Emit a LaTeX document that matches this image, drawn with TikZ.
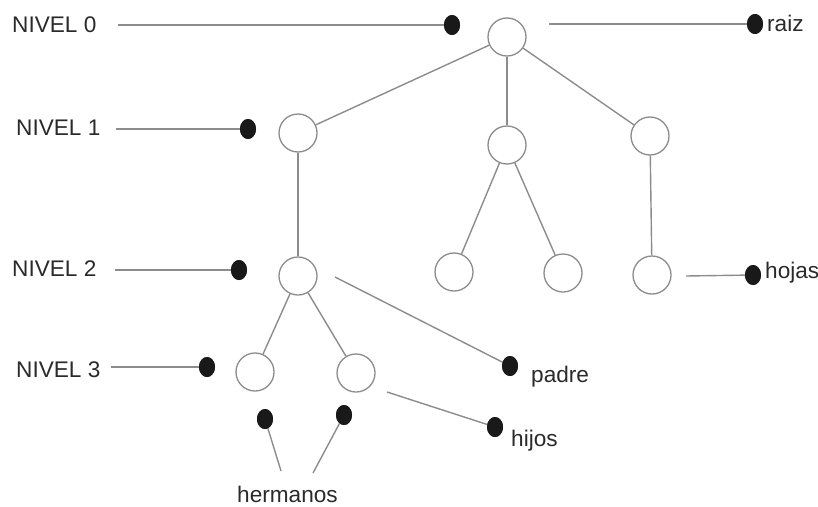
\documentclass[tikz,border=0pt]{standalone}
\usepackage{fontspec}
\setmainfont{Liberation Sans}
\usetikzlibrary{shapes.geometric}
\definecolor{ln}{HTML}{8C8C8C}
\definecolor{tx}{HTML}{2A2A2A}
\begin{document}
\begin{tikzpicture}[x=1pt,y=-1pt,
  nodo/.style={circle,draw=ln,line width=1.3pt,minimum size=38pt,inner sep=0pt,fill=white},
  punto/.style={ellipse,fill=black!90,draw=none,minimum width=16pt,minimum height=20pt,inner sep=0pt},
  conn/.style={draw=ln,line width=1.4pt},
  lbl/.style={font=\fontsize{22.6}{26}\selectfont,text=tx,inner sep=0pt}]
\useasboundingbox (0,0) rectangle (818,506);
% tree nodes
\node[nodo] (r) at (507,37) {};
\node[nodo] (a) at (298,133) {};
\node[nodo] (b) at (507,145) {};
\node[nodo] (c) at (650,136) {};
\node[nodo] (a1) at (298,276) {};
\node[nodo] (b1) at (454,272) {};
\node[nodo] (b2) at (563,273) {};
\node[nodo] (c1) at (652,275) {};
\node[nodo] (h1) at (255,372) {};
\node[nodo] (h2) at (356,373) {};
\draw[conn] (r) -- (a);
\draw[conn] (r) -- (b);
\draw[conn] (r) -- (c);
\draw[conn] (a) -- (a1);
\draw[conn] (b) -- (b1);
\draw[conn] (b) -- (b2);
\draw[conn] (c) -- (c1);
\draw[conn] (a1) -- (h1);
\draw[conn] (a1) -- (h2);
% level labels
\node[lbl,anchor=base west] (n0) at (12,32) {NIVEL 0};
\node[lbl,anchor=base west] (n1) at (16,135) {NIVEL 1};
\node[lbl,anchor=base west] (n2) at (12,276) {NIVEL 2};
\node[lbl,anchor=base west] (n3) at (16,377) {NIVEL 3};
\node[punto] (d0) at (452,25) {};
\node[punto] (d1) at (248,129) {};
\node[punto] (d2) at (239,270) {};
\node[punto] (d3) at (207,367) {};
\coordinate (s0) at (118,25);
\coordinate (s1) at (116,129);
\coordinate (s2) at (115,270);
\coordinate (s3) at (111,367);
\draw[conn] (s0) -- (d0.center);
\draw[conn] (s1) -- (d1.center);
\draw[conn] (s2) -- (d2.center);
\draw[conn] (s3) -- (d3.center);
\node[punto] at (452,25) {};
\node[punto] at (248,129) {};
\node[punto] at (239,270) {};
\node[punto] at (207,367) {};
% raiz
\coordinate (sr) at (549,24);
\node[punto] (dr) at (755,24) {};
\draw[conn] (sr) -- (dr.center);
\node[punto] at (755,24) {};
\node[lbl,anchor=base west] (traiz) at (767,31) {raiz};
% hojas
\coordinate (sh) at (686,276);
\node[punto] (dh) at (753,275) {};
\draw[conn] (sh) -- (dh.center);
\node[punto] at (753,275) {};
\node[lbl,anchor=base west] (thojas) at (765,278) {hojas};
% padre
\coordinate (sp) at (335,277);
\node[punto] (dp) at (510,366) {};
\draw[conn] (sp) -- (dp.center);
\node[punto] at (510,366) {};
\node[lbl,anchor=base west] (tpadre) at (531,382) {padre};
% hijos
\coordinate (sj) at (387,392);
\node[punto] (dj) at (495,427) {};
\draw[conn] (sj) -- (dj.center);
\node[punto] at (495,427) {};
\node[lbl,anchor=base west] (thijos) at (511,446) {hijos};
% hermanos
\node[punto] (e1) at (265,419) {};
\node[punto] (e2) at (344,415) {};
\coordinate (t1) at (281,471);
\coordinate (t2) at (313,473);
\draw[conn] (t1) -- (e1.center);
\draw[conn] (t2) -- (e2.center);
\node[punto] at (265,419) {};
\node[punto] at (344,415) {};
\node[lbl,anchor=base west] (therm) at (237,502) {hermanos};
\end{tikzpicture}
\end{document}
